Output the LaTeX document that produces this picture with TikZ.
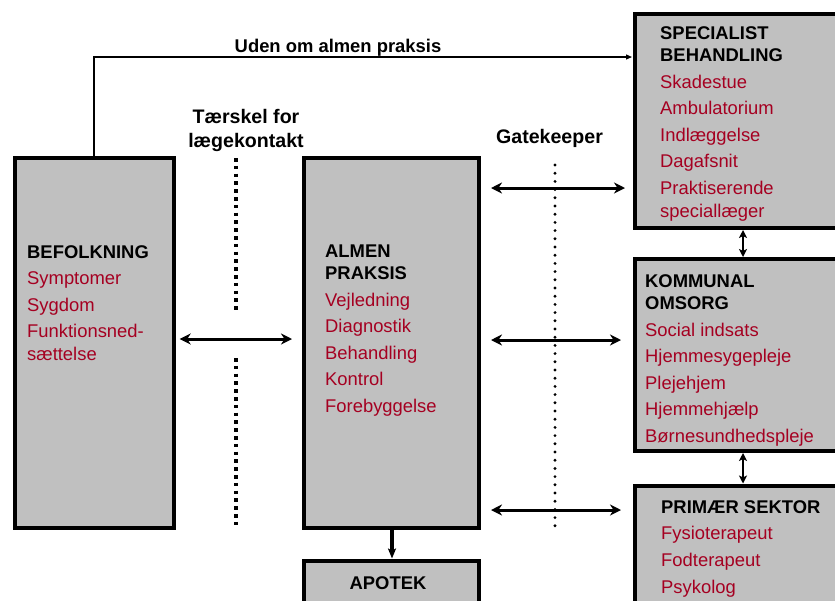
\documentclass[tikz,border=0pt]{standalone}
\usepackage{fontspec}
\setmainfont{Liberation Sans}
\usetikzlibrary{arrows.meta}
\definecolor{boxgray}{RGB}{192,192,192}
\definecolor{dred}{RGB}{165,0,33}
\begin{document}
\begin{tikzpicture}[x=1pt,y=-1pt,
  box/.style={draw=black, line width=4pt, fill=boxgray, inner sep=0pt, outer sep=0pt, anchor=north west},
  txt/.style={inner sep=0pt, anchor=base west, align=left, font=\fontsize{18.4}{22.5}\selectfont},
  lbl/.style={inner sep=0pt, anchor=base, align=center, font=\bfseries\fontsize{19.6}{24}\selectfont},
  dbl/.style={line width=3pt, {Stealth[length=11pt,width=11pt,inset=3.5pt]}-{Stealth[length=11pt,width=11pt,inset=3.5pt]}},
  vdbl/.style={line width=2.6pt, {Stealth[length=8pt,width=8pt,inset=2pt]}-{Stealth[length=8pt,width=8pt,inset=2pt]}},
  down/.style={line width=4pt, -{Stealth[length=10pt,width=8pt,inset=2pt]}},
  thinarrow/.style={line width=1.3pt, -{Triangle[length=6pt,width=5pt]}},
  sqdots/.style={line width=3.5pt, dash pattern=on 3.5pt off 4.3pt},
  rddots/.style={line width=3.2pt, line cap=round, dash pattern=on 0pt off 8.2pt}
]
\clip (0,0) rectangle (835,600);
\fill[white] (0,0) rectangle (835,600);

% boxes
\node[box, minimum width=159pt, minimum height=370pt] (bef) at (14.7,157.5) {};
\node[box, minimum width=175pt, minimum height=370pt] (alm) at (304,157.5) {};
\node[box, minimum width=175pt, minimum height=60pt] (apo) at (304,560.5) {};
\node[box, minimum width=220pt, minimum height=214pt] (spec) at (634.5,14) {};
\node[box, minimum width=220pt, minimum height=192pt] (kom) at (634.5,259) {};
\node[box, minimum width=220pt, minimum height=130pt] (prim) at (634.5,485.5) {};

% box texts (base anchor = baseline of the last line)
\node[txt] (beft) at (27,360.3) {\textbf{BEFOLKNING}\\[4.1pt]\textcolor{dred}{Symptomer}\\[4.1pt]\textcolor{dred}{Sygdom}\\[4.1pt]\textcolor{dred}{Funktionsned-}\\\textcolor{dred}{sættelse}};
\node[txt] (almt) at (325,412.5) {\textbf{ALMEN}\\\textbf{PRAKSIS}\\[4.1pt]\textcolor{dred}{Vejledning}\\[4.1pt]\textcolor{dred}{Diagnostik}\\[4.1pt]\textcolor{dred}{Behandling}\\[4.1pt]\textcolor{dred}{Kontrol}\\[4.1pt]\textcolor{dred}{Forebyggelse}};
\node[txt, anchor=base] (apot) at (388,589) {\textbf{APOTEK}};
\node[txt] (spect) at (660,217) {\textbf{SPECIALIST}\\\textbf{BEHANDLING}\\[4.1pt]\textcolor{dred}{Skadestue}\\[4.1pt]\textcolor{dred}{Ambulatorium}\\[4.1pt]\textcolor{dred}{Indlæggelse}\\[4.1pt]\textcolor{dred}{Dagafsnit}\\[4.1pt]\textcolor{dred}{Praktiserende}\\\textcolor{dred}{speciallæger}};
\node[txt] (komt) at (645,442.5) {\textbf{KOMMUNAL}\\\textbf{OMSORG}\\[4.1pt]\textcolor{dred}{Social indsats}\\[4.1pt]\textcolor{dred}{Hjemmesygepleje}\\[4.1pt]\textcolor{dred}{Plejehjem}\\[4.1pt]\textcolor{dred}{Hjemmehjælp}\\[4.1pt]\textcolor{dred}{Børnesundhedspleje}};
\node[txt] (primt) at (661,593) {\textbf{PRIMÆR SEKTOR}\\[4.1pt]\textcolor{dred}{Fysioterapeut}\\[4.1pt]\textcolor{dred}{Fodterapeut}\\[4.1pt]\textcolor{dred}{Psykolog}};

% labels
\node[txt, anchor=base, font=\bfseries\fontsize{18.4}{22}\selectfont] (uden) at (338,52) {Uden om almen praksis};
\node[lbl] (taer) at (246,147) {Tærskel for\\lægekontakt};
\node[lbl] (gate) at (549.5,143) {Gatekeeper};

% dotted lines
\draw[sqdots] (236,158) -- (236,313);
\draw[sqdots] (236,358) -- (236,528);
\draw[rddots] (555,165) -- (555,527);

% helper coordinates
\coordinate (r1) at (0,339);
\coordinate (g1) at (0,188);
\coordinate (g2) at (0,340);
\coordinate (g3) at (0,510);
\coordinate (vx) at (743,0);
\coordinate (ax) at (392,0);
\coordinate (ux) at (94,0);
\coordinate (uy) at (0,57);

% connectors
\draw[dbl, shorten <=6pt, shorten >=12pt] (bef.east |- r1) -- (alm.west |- r1);
\draw[dbl, shorten <=12pt, shorten >=9.5pt] (alm.east |- g1) -- (spec.west |- g1);
\draw[dbl, shorten <=12pt, shorten >=13.5pt] (alm.east |- g2) -- (kom.west |- g2);
\draw[dbl, shorten <=12pt, shorten >=13.5pt] (alm.east |- g3) -- (prim.west |- g3);
\draw[vdbl, shorten <=2pt, shorten >=2pt] (spec.south -| vx) -- (kom.north -| vx);
\draw[vdbl, shorten <=2pt, shorten >=2pt] (kom.south -| vx) -- (prim.north -| vx);
\draw[down, shorten <=2pt, shorten >=2pt] (alm.south -| ax) -- (apo.north -| ax);
\draw[thinarrow, shorten >=2.5pt] (bef.north -| ux) |- (spec.west |- uy);
\end{tikzpicture}
\end{document}
